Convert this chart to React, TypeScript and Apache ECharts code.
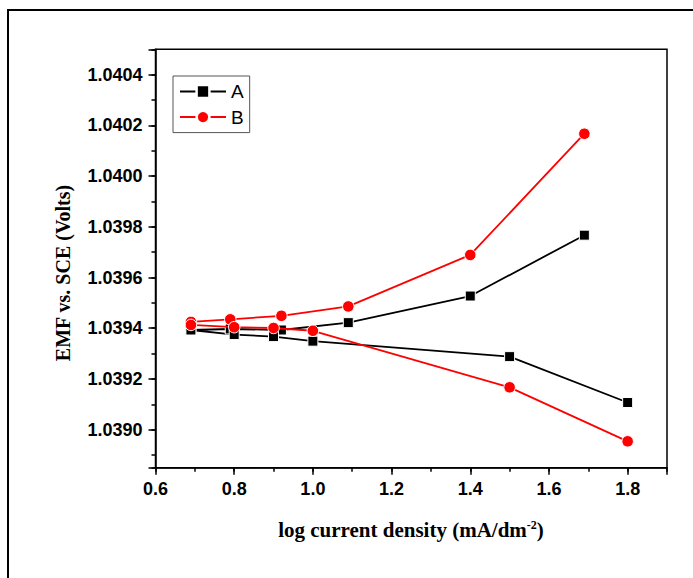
import React, { useEffect, useRef } from "react";
import * as echarts from "echarts";

// Data
const xUpper = [0.69, 0.79, 0.92, 1.09, 1.4, 1.69];
const xLower = [0.69, 0.8, 0.9, 1.0, 1.5, 1.8];
const aUpper = [1.039393, 1.039397, 1.039393, 1.039422, 1.039527, 1.039767];
const aLower = [1.039393, 1.039375, 1.039367, 1.039349, 1.039288, 1.039107];
const bUpper = [1.039425, 1.039435, 1.039449, 1.039486, 1.039689, 1.040167];
const bLower = [1.039413, 1.039404, 1.039401, 1.03939, 1.039167, 1.038954];
const seriesNames = ["A", "B"];
const yTitle = "EMF vs. SCE (Volts)";
const xTitleMain = "log current density (mA/dm";
const xTitleSup = "-2";

function buildPath(up: number[], low: number[]) {
  const pts: number[][] = [];
  for (let i = up.length - 1; i >= 0; i--) pts.push([xUpper[i], up[i]]);
  for (let i = 0; i < low.length; i++) pts.push([xLower[i], low[i]]);
  return pts;
}

export default function App() {
  const ref = useRef<HTMLDivElement>(null);
  useEffect(() => {
    if (!ref.current) return;
    const chart = echarts.init(ref.current, null, { renderer: "svg" });
    const tickFont = {
      fontFamily: '"Liberation Sans", Arial, sans-serif',
      fontWeight: "bold" as const,
      fontSize: 18,
      color: "#000",
    };
    chart.setOption({
      animation: false,
      backgroundColor: "#fff",
      grid: {
        left: 155.5,
        top: 49.3,
        width: 511.5,
        height: 418.4,
        show: true,
        borderColor: "#000",
        borderWidth: 1.5,
        backgroundColor: "transparent",
      },
      legend: {
        orient: "vertical",
        left: 173,
        top: 76,
        data: seriesNames,
        itemWidth: 46,
        itemHeight: 16,
        itemGap: 5.6,
        padding: [5.5, 6, 5.5, 6],
        borderColor: "#555",
        borderWidth: 1,
        textStyle: {
          fontFamily: '"Liberation Sans", Arial, sans-serif',
          fontSize: 19,
          lineHeight: 20,
          color: "#000",
        },
        itemStyle: { borderColor: "#fff", borderWidth: 2.5 },
      },
      xAxis: [
        {
          type: "value",
          position: "bottom",
          min: 0.6,
          max: 1.9,
          interval: 0.2,
          axisLine: { show: true, lineStyle: { color: "#000", width: 1.5 } },
          axisTick: { show: true, length: 7, lineStyle: { color: "#000", width: 1.5 } },
          axisLabel: {
            ...tickFont,
            margin: 12,
            formatter: (v: number) => {
              const k = v * 5;
              return Math.abs(k - Math.round(k)) < 1e-6 ? v.toFixed(1) : "";
            },
          },
          splitLine: { show: false },
        },
        {
          type: "value",
          position: "bottom",
          min: 0.6,
          max: 1.9,
          interval: 0.1,
          axisLine: { show: false },
          axisTick: { show: true, length: 4, lineStyle: { color: "#000", width: 1.5 } },
          axisLabel: { show: false },
          splitLine: { show: false },
        },
      ],
      yAxis: [
        {
          type: "value",
          position: "left",
          min: 1.03885,
          max: 1.0405,
          splitNumber: 8,
          axisLine: { show: true, lineStyle: { color: "#000", width: 1.5 } },
          axisTick: { show: true, length: 7, lineStyle: { color: "#000", width: 1.5 } },
          axisLabel: {
            ...tickFont,
            margin: 13,
            formatter: (v: number) => {
              const k = v * 5000;
              return Math.abs(k - Math.round(k)) < 1e-6 ? v.toFixed(4) : "";
            },
          },
          splitLine: { show: false },
        },
        {
          type: "value",
          position: "left",
          min: 1.03885,
          max: 1.0405,
          splitNumber: 16,
          axisLine: { show: false },
          axisTick: { show: true, length: 4, lineStyle: { color: "#000", width: 1.5 } },
          axisLabel: { show: false },
          splitLine: { show: false },
        },
      ],
      series: [
        {
          name: seriesNames[0],
          type: "line",
          xAxisIndex: 0,
          yAxisIndex: 0,
          data: buildPath(aUpper, aLower),
          symbol: "rect",
          symbolSize: 10,
          showAllSymbol: true,
          color: "#000",
          lineStyle: { color: "#000", width: 1.8 },
          itemStyle: { color: "#000", borderColor: "#fff", borderWidth: 1 },
          z: 2,
        },
        {
          name: seriesNames[1],
          type: "line",
          xAxisIndex: 0,
          yAxisIndex: 0,
          data: buildPath(bUpper, bLower),
          symbol: "circle",
          symbolSize: 11.5,
          showAllSymbol: true,
          color: "#ff0000",
          lineStyle: { color: "#ff0000", width: 1.8 },
          itemStyle: { color: "#ff0000", borderColor: "#fff", borderWidth: 1 },
          z: 3,
        },
      ],
      graphic: [
        {
          type: "rect",
          shape: { x: 8, y: 10, width: 700, height: 600 },
          style: { fill: "none", stroke: "#000", lineWidth: 2 },
          silent: true,
        },
        {
          type: "text",
          x: 63,
          y: 273,
          rotation: Math.PI / 2,
          style: {
            text: yTitle,
            fontFamily: '"Liberation Serif", "Times New Roman", serif',
            fontWeight: "bold",
            fontSize: 20,
            fill: "#000",
            align: "center",
            verticalAlign: "middle",
          },
        },
        {
          type: "text",
          x: 411,
          y: 530,
          style: {
            text: xTitleMain + "{sup|" + xTitleSup + "})",
            fontFamily: '"Liberation Serif", "Times New Roman", serif',
            fontWeight: "bold",
            fontSize: 21,
            fill: "#000",
            align: "center",
            verticalAlign: "middle",
            rich: {
              sup: {
                fontFamily: '"Liberation Serif", "Times New Roman", serif',
                fontWeight: "bold",
                fontSize: 12,
                verticalAlign: "top",
                fill: "#000",
                padding: [0, 0, 10, 0],
              },
            },
          },
        },
      ],
    });
    return () => chart.dispose();
  }, []);
  return (
    <div
      ref={ref}
      style={{ position: "fixed", left: 0, top: 0, width: 693, height: 578 }}
    />
  );
}
